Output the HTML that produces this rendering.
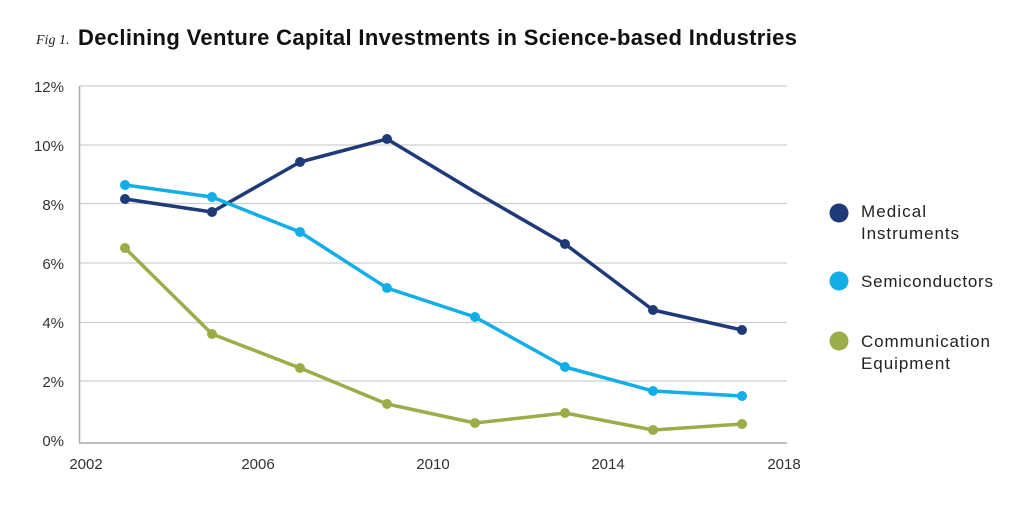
<!DOCTYPE html>
<html><head><meta charset="utf-8"><style>
body{margin:0;background:#fff;}
</style></head><body>
<svg width="1024" height="521" xmlns="http://www.w3.org/2000/svg" font-family="Liberation Sans, sans-serif">
<rect width="1024" height="521" fill="#fff"/>
<text x="36" y="44" style="font-family:'Liberation Serif',serif;font-style:italic" font-size="14" fill="#222">Fig 1.</text>
<text x="78" y="45" font-size="22" font-weight="bold" fill="#111" textLength="719" lengthAdjust="spacing">Declining Venture Capital Investments in Science-based Industries</text>
<g stroke="#cfcfcf" stroke-width="1.3">
<line x1="80" y1="86" x2="787" y2="86"/>
<line x1="80" y1="145" x2="787" y2="145"/>
<line x1="80" y1="203.5" x2="787" y2="203.5"/>
<line x1="80" y1="263" x2="787" y2="263"/>
<line x1="80" y1="322.5" x2="787" y2="322.5"/>
<line x1="80" y1="381" x2="787" y2="381"/>
</g>
<line x1="79.5" y1="86" x2="79.5" y2="443" stroke="#aaa" stroke-width="1.5"/>
<line x1="79" y1="443" x2="787" y2="443" stroke="#aaa" stroke-width="1.5"/>
<g font-size="15" fill="#333" text-anchor="end">
<text x="64" y="92">12%</text><text x="64" y="151">10%</text><text x="64" y="210">8%</text>
<text x="64" y="269">6%</text><text x="64" y="328">4%</text><text x="64" y="387">2%</text><text x="64" y="446">0%</text>
</g>
<g font-size="15" fill="#333" text-anchor="middle">
<text x="86" y="469">2002</text><text x="258" y="469">2006</text><text x="433" y="469">2010</text>
<text x="608" y="469">2014</text><text x="784" y="469">2018</text>
</g>
<g fill="none" stroke-width="3.5" stroke-linejoin="round">
<polyline stroke="#1f3a78" points="125,199 212,212 300,162 387,139 475,192 565,244 653,310 742,330"/>
<polyline stroke="#12aee8" points="125,185 212,197 300,232 387,288 475,317 565,367 653,391 742,396"/>
<polyline stroke="#9aad48" points="125,248 212,334 300,368 387,404 475,423 565,413 653,430 742,424"/>
</g>
<g fill="#1f3a78"><circle cx="125" cy="199" r="5"/><circle cx="212" cy="212" r="5"/><circle cx="300" cy="162" r="5"/><circle cx="387" cy="139" r="5"/><circle cx="565" cy="244" r="5"/><circle cx="653" cy="310" r="5"/><circle cx="742" cy="330" r="5"/></g>
<g fill="#12aee8"><circle cx="125" cy="185" r="5"/><circle cx="212" cy="197" r="5"/><circle cx="300" cy="232" r="5"/><circle cx="387" cy="288" r="5"/><circle cx="475" cy="317" r="5"/><circle cx="565" cy="367" r="5"/><circle cx="653" cy="391" r="5"/><circle cx="742" cy="396" r="5"/></g>
<g fill="#9aad48"><circle cx="125" cy="248" r="5"/><circle cx="212" cy="334" r="5"/><circle cx="300" cy="368" r="5"/><circle cx="387" cy="404" r="5"/><circle cx="475" cy="423" r="5"/><circle cx="565" cy="413" r="5"/><circle cx="653" cy="430" r="5"/><circle cx="742" cy="424" r="5"/></g>
<circle cx="839" cy="213" r="9.5" fill="#1f3a78"/>
<circle cx="839" cy="281" r="9.5" fill="#12aee8"/>
<circle cx="839" cy="341" r="9.5" fill="#9aad48"/>
<g font-size="17" fill="#222">
<text x="861" y="217" textLength="65">Medical</text><text x="861" y="239" textLength="98">Instruments</text>
<text x="861" y="287" textLength="132">Semiconductors</text>
<text x="861" y="347" textLength="129">Communication</text><text x="861" y="369" textLength="89">Equipment</text>
</g>
</svg>
</body></html>
